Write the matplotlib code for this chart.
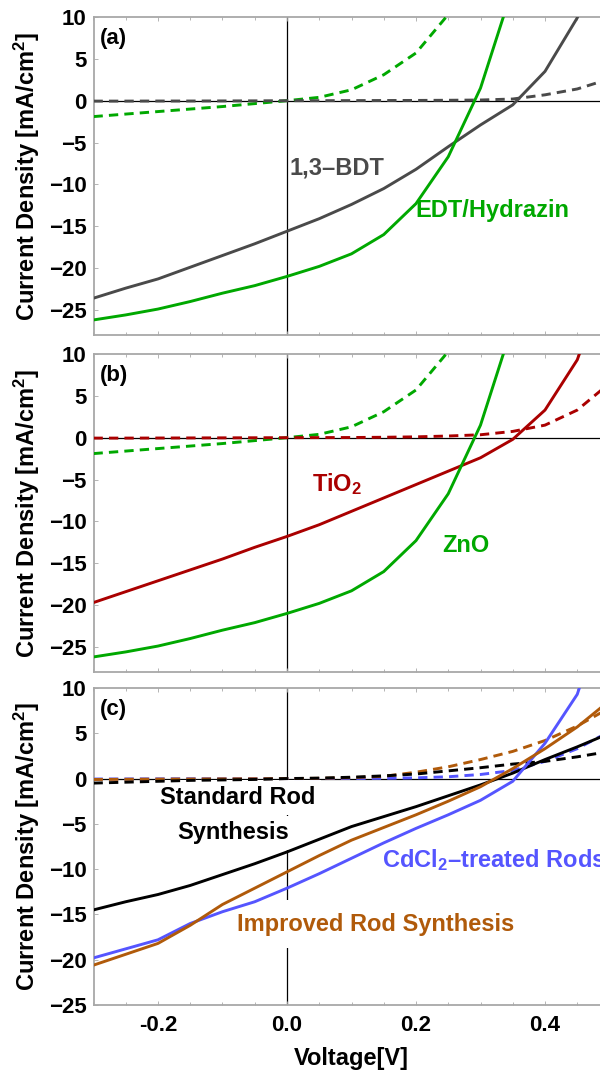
import matplotlib
matplotlib.use('Agg')
import matplotlib.pyplot as plt
from matplotlib.ticker import MultipleLocator, FormatStrFormatter

plt.rcParams['font.family'] = ['Liberation Sans', 'DejaVu Sans']
plt.rcParams['font.weight'] = 'bold'
plt.rcParams['axes.labelweight'] = 'bold'
plt.rcParams['mathtext.fontset'] = 'custom'
plt.rcParams['mathtext.rm'] = 'Liberation Sans:bold'
plt.rcParams['mathtext.it'] = 'Liberation Sans:bold'
plt.rcParams['mathtext.bf'] = 'Liberation Sans:bold'

# ---------------- data ----------------
voltage = [-0.30, -0.25, -0.20, -0.15, -0.10, -0.05, 0.00, 0.05, 0.10,
           0.15, 0.20, 0.25, 0.30, 0.35, 0.40, 0.45, 0.50]

# green (EDT/Hydrazin = ZnO), light and dark
zno_light = [-26.2, -25.6, -24.9, -24.0, -23.0, -22.1, -21.0, -19.8, -18.3,
             -16.0, -12.3, -6.7, 1.5, 13.5, 30.0, 50.0, 70.0]
zno_dark = [-1.9, -1.6, -1.3, -1.0, -0.7, -0.35, 0.0, 0.4, 1.3,
            3.1, 5.7, 10.3, 18.0, 28.0, 40.0, 55.0, 70.0]
# grey (1,3-BDT)
bdt_light = [-23.6, -22.4, -21.3, -19.9, -18.5, -17.1, -15.6, -14.1, -12.4,
             -10.5, -8.2, -5.5, -2.9, -0.5, 3.5, 9.9, 20.0]
bdt_dark = [-0.05, -0.05, -0.04, -0.04, -0.03, -0.02, 0.0, 0.0, 0.01,
            0.02, 0.03, 0.05, 0.08, 0.2, 0.7, 1.4, 2.6]
# red (TiO2)
tio2_light = [-19.7, -18.4, -17.1, -15.8, -14.5, -13.1, -11.8, -10.4, -8.8,
              -7.2, -5.6, -4.0, -2.4, -0.2, 3.3, 9.3, 20.0]
tio2_dark = [-0.05, -0.05, -0.04, -0.03, -0.02, -0.01, 0.0, 0.01, 0.02,
             0.05, 0.1, 0.2, 0.35, 0.75, 1.5, 3.3, 6.5]
# panel (c)
std_light = [-14.5, -13.6, -12.8, -11.8, -10.6, -9.4, -8.1, -6.7, -5.3,
             -4.2, -3.1, -1.9, -0.7, 0.6, 2.1, 3.5, 5.0]
std_dark = [-0.5, -0.4, -0.3, -0.2, -0.15, -0.1, 0.0, 0.05, 0.15,
            0.3, 0.5, 0.85, 1.2, 1.6, 1.9, 2.4, 3.0]
imp_light = [-20.6, -19.4, -18.2, -16.2, -13.9, -12.1, -10.3, -8.5, -6.8,
             -5.4, -4.0, -2.5, -0.9, 1.1, 3.3, 5.7, 8.6]
imp_dark = [-0.1, -0.08, -0.06, -0.05, -0.03, -0.02, 0.0, 0.03, 0.1,
            0.25, 0.7, 1.3, 2.1, 3.0, 4.2, 5.8, 7.8]
cdcl_light = [-19.8, -18.8, -17.8, -16.0, -14.7, -13.6, -12.1, -10.5, -8.8,
              -7.1, -5.5, -4.0, -2.4, -0.3, 3.9, 9.3, 20.0]
cdcl_dark = [-0.05, -0.04, -0.03, -0.02, -0.02, -0.01, 0.0, 0.0, 0.01,
             0.03, 0.08, 0.2, 0.45, 0.9, 1.9, 3.3, 5.2]

x_ticks = [-0.2, 0.0, 0.2, 0.4]
y_ticks_ab = [-25, -20, -15, -10, -5, 0, 5, 10]
y_ticks_c = [-25, -20, -15, -10, -5, 0, 5, 10]

GREEN = '#00A800'
GREY = '#4A4A4A'
RED = '#AA0000'
BLUE = '#5555FF'
ORANGE = '#B05A0A'
FRAME = '#A8A8A8'
DASH = (0, (3.2, 2.1))
LW = 2.1

fig = plt.figure(figsize=(6, 10.72), dpi=100)
W, H = 600.0, 1072.0
left = 93.5 / W
width = 516.0 / W
ax_a = fig.add_axes([left, 1 - 335 / H, width, 318 / H])
ax_b = fig.add_axes([left, 1 - 672 / H, width, 318 / H])
ax_c = fig.add_axes([left, 1 - 1005 / H, width, 317 / H])


def style(ax, ylim, yticks, show_x):
    ax.set_xlim(-0.3, 0.5)
    ax.set_ylim(*ylim)
    for s in ax.spines.values():
        s.set_color(FRAME)
        s.set_linewidth(1.3)
    ax.set_xticks(x_ticks)
    ax.xaxis.set_minor_locator(MultipleLocator(0.05))
    ax.set_yticks(yticks)
    ax.xaxis.set_major_formatter(FormatStrFormatter('%.1f'))
    ax.tick_params(which='both', direction='in', color=FRAME, top=True,
                   right=False, labelsize=16, width=0.6)
    ax.tick_params(which='major', length=3)
    ax.tick_params(which='minor', length=2)
    ax.tick_params(axis='y', pad=5)
    ax.tick_params(axis='x', pad=7)
    if not show_x:
        ax.tick_params(axis='x', labelbottom=False)
    ax.axhline(0, color='black', lw=0.9, zorder=1)
    ax.axvline(0, color='black', lw=0.9, zorder=1)
    ax.set_ylabel('Current Density [mA/cm$^2$]', fontsize=17)
    ax.yaxis.set_label_coords(-0.10, 0.5)


style(ax_a, (-28, 10), y_ticks_ab, False)
style(ax_b, (-28, 10), y_ticks_ab, False)
style(ax_c, (-25, 10), y_ticks_c, True)

# panel (a)
ax_a.plot(voltage, zno_dark, color=GREEN, lw=LW, ls=DASH, zorder=3)
ax_a.plot(voltage, bdt_dark, color=GREY, lw=LW, ls=DASH, zorder=3)
ax_a.plot(voltage, bdt_light, color=GREY, lw=LW, zorder=3)
ax_a.plot(voltage, zno_light, color=GREEN, lw=LW, zorder=3)
ax_a.text(0.078, -8.0, '1,3–BDT', color=GREY, fontsize=17, ha='center', va='center')
ax_a.text(0.318, -13.1, 'EDT/Hydrazin', color=GREEN, fontsize=17, ha='center', va='center')

# panel (b)
ax_b.plot(voltage, zno_dark, color=GREEN, lw=LW, ls=DASH, zorder=3)
ax_b.plot(voltage, tio2_dark, color=RED, lw=LW, ls=DASH, zorder=3)
ax_b.plot(voltage, tio2_light, color=RED, lw=LW, zorder=3)
ax_b.plot(voltage, zno_light, color=GREEN, lw=LW, zorder=3)
ax_b.text(0.078, -5.6, 'TiO$_2$', color=RED, fontsize=17, ha='center', va='center')
ax_b.text(0.277, -12.9, 'ZnO', color=GREEN, fontsize=17, ha='center', va='center')

# panel (c)
ax_c.plot(voltage, cdcl_dark, color=BLUE, lw=LW, ls=DASH, zorder=3)
ax_c.plot(voltage, imp_dark, color=ORANGE, lw=LW, ls=DASH, zorder=3)
ax_c.plot(voltage, std_dark, color='black', lw=LW, ls=DASH, zorder=3)
ax_c.plot(voltage, std_light, color='black', lw=LW, zorder=3)
ax_c.plot(voltage, cdcl_light, color=BLUE, lw=LW, zorder=3)
ax_c.plot(voltage, imp_light, color=ORANGE, lw=LW, zorder=3)
box = dict(facecolor='white', edgecolor='none', pad=4)
ax_c.text(-0.077, -2.1, 'Standard Rod', color='black', fontsize=17,
          ha='center', va='center', bbox=box, zorder=2)
ax_c.text(-0.083, -6.0, 'Synthesis', color='black', fontsize=17,
          ha='center', va='center', bbox=box, zorder=2)
ax_c.text(0.137, -16.1, 'Improved Rod Synthesis', color=ORANGE, fontsize=17,
          ha='center', va='center', bbox=dict(facecolor='white', edgecolor='none', pad=9), zorder=2)
ax_c.text(0.147, -9.0, 'CdCl$_2$–treated Rods', color=BLUE, fontsize=17,
          ha='left', va='center')
ax_c.set_xlabel('Voltage[V]', fontsize=17, labelpad=8)

for ax, lab in [(ax_a, '(a)'), (ax_b, '(b)'), (ax_c, '(c)')]:
    ax.text(0.013, 0.966, lab, transform=ax.transAxes, fontsize=16,
            ha='left', va='top')

fig.savefig('out.png', dpi=100)
